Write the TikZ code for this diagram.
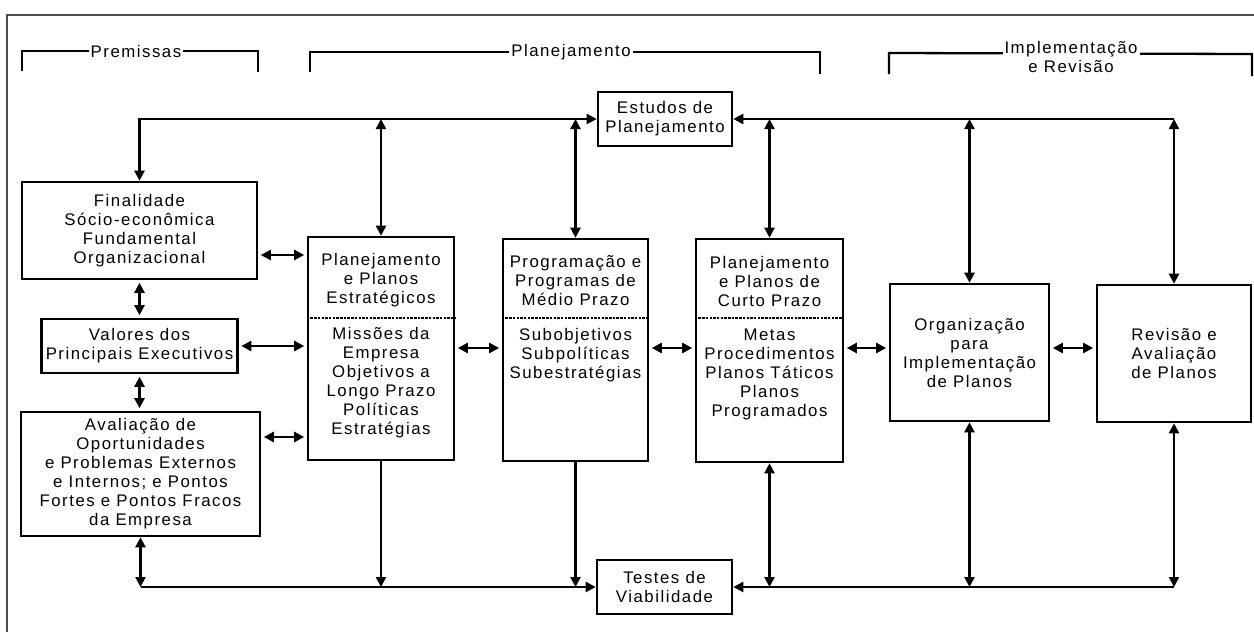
\documentclass[tikz,border=0pt]{standalone}
\usepackage{fontspec}
\setmainfont{Liberation Sans}[LetterSpace=9]
\usetikzlibrary{arrows.meta}
\begin{document}
\begin{tikzpicture}[x=1pt,y=-1pt,
  txt/.style={font=\fontsize{16.8}{19}\selectfont, align=center, inner sep=0pt},
  box/.style={draw, line width=2.6pt, inner sep=0pt, txt},
  conn/.style={line width=2.3pt, >={Triangle[length=10pt,width=10pt]}},
  gap/.style={shorten <=2.5pt, shorten >=2.5pt},
  brk/.style={line width=2.3pt},
  frame/.style={line width=1.8pt, draw=black!70},
  split/.style={line width=2pt, dash pattern=on 2.5pt off 1.2pt},
  head/.style={txt, fill=white, inner xsep=2pt, inner ysep=1pt}
]
\useasboundingbox (0,0) rectangle (1254,632);

% outer frame (top and left edges)
\draw[frame] (7,632) -- (7,15) -- (1254,15);

% phase brackets
\draw[brk] (22,71) -- (22,51) -- (258,51) -- (258,72);
\node[head] (premissas) at (136,51) {Premissas};
\draw[brk] (310,72) -- (310,52) -- (820,52) -- (820,74);
\node[head] (planejamento) at (571,52) {Planejamento};
\draw[brk] (889,74) -- (889,53) -- (1252,54) -- (1252,76);
\node[head] (implementacao) at (1071,57) {Implementação\\e Revisão};

% boxes
\node[box, minimum width=134pt, minimum height=54pt] (estudos) at (665,119) {Estudos de\\Planejamento};
\node[box, minimum width=235pt, minimum height=97pt] (finalidade) at (139.5,230.5) {Finalidade\\Sócio-econômica\\Fundamental\\Organizacional};
\node[box, minimum width=196pt, minimum height=54pt] (valores) at (139.5,346) {Valores dos\\Principais Executivos};
\node[box, minimum width=239pt, minimum height=124pt] (avaliacao) at (140.5,474) {Avaliação de\\Oportunidades\\e Problemas Externos\\e Internos; e Pontos\\Fortes e Pontos Fracos\\da Empresa};

\node[box, minimum width=146pt, minimum height=223pt] (estrategico) at (381,348.5) {};
\node[box, minimum width=145pt, minimum height=222pt] (programacao) at (575.5,350) {};
\node[box, minimum width=147pt, minimum height=223pt] (curto) at (769.5,350.5) {};

\node[box, minimum width=159pt, minimum height=137pt] (organizacao) at (969.5,352.5) {Organização\\para\\Implementação\\de Planos};
\node[box, minimum width=154pt, minimum height=137pt] (revisao) at (1174,353.5) {Revisão e\\Avaliação\\de Planos};
\node[box, minimum width=135pt, minimum height=54pt] (testes) at (664.5,587) {Testes de\\Viabilidade};

% dashed dividers inside the planning boxes
\coordinate (dl) at (0,318);
\draw[split] (estrategico.west |- dl) -- (estrategico.east |- dl);
\draw[split] (programacao.west |- dl) -- (programacao.east |- dl);
\draw[split] (curto.west |- dl) -- (curto.east |- dl);

\node[txt] (estrategico-top) at (381,280) {Planejamento\\e Planos\\Estratégicos};
\node[txt] (estrategico-bot) at (381,382.5) {Missões da\\Empresa\\Objetivos a\\Longo Prazo\\Políticas\\Estratégias};
\node[txt] (programacao-top) at (575.5,281) {Programação e\\Programas de\\Médio Prazo};
\node[txt] (programacao-bot) at (575.5,355) {Subobjetivos\\Subpolíticas\\Subestratégias};
\node[txt] (curto-top) at (769.5,281.5) {Planejamento\\e Planos de\\Curto Prazo};
\node[txt] (curto-bot) at (769.5,374.5) {Metas\\Procedimentos\\Planos Táticos\\Planos\\Programados};

% top feedback line through Estudos de Planejamento
\draw[conn,<->] (estudos.west) -| (finalidade.north);
\coordinate (tr) at (revisao.north |- estudos.east);
\draw[conn,<-] (estudos.east) -- (tr);
\draw[conn,<->] (estrategico.north |- estudos.west) -- (estrategico.north);
\draw[conn,<->] (programacao.north |- estudos.west) -- (programacao.north);
\draw[conn,<->] (curto.north |- estudos.east) -- (curto.north);
\draw[conn,<->] (organizacao.north |- estudos.east) -- (organizacao.north);
\draw[conn,<->] (tr) -- (revisao.north);

% bottom line through Testes de Viabilidade
\coordinate (bl) at (avaliacao.south |- testes.west);
\coordinate (br) at (revisao.south |- testes.east);
\draw[conn,<->] (avaliacao.south) -- (bl);
\draw[conn,->] (bl) -- (testes.west);
\draw[conn,->] (estrategico.south) -- (estrategico.south |- testes.west);
\draw[conn,->] (programacao.south) -- (programacao.south |- testes.west);
\draw[conn,<-] (testes.east) -- (br);
\draw[conn,<->] (curto.south) -- (curto.south |- testes.east);
\draw[conn,<->] (organizacao.south) -- (organizacao.south |- testes.east);
\draw[conn,<->] (revisao.south) -- (br);

% premises column
\draw[conn,<->,gap] (finalidade.south) -- (finalidade.south |- valores.north);
\draw[conn,<->,gap] (valores.south) -- (valores.south |- avaliacao.north);

% horizontal links
\coordinate (rowA) at (0,255);
\coordinate (rowB) at (0,346);
\coordinate (rowC) at (0,437);
\coordinate (rowM) at (0,348);
\draw[conn,<->,gap] (finalidade.east |- rowA) -- (estrategico.west |- rowA);
\draw[conn,<->,gap] (valores.east |- rowB) -- (estrategico.west |- rowB);
\draw[conn,<->,gap] (avaliacao.east |- rowC) -- (estrategico.west |- rowC);
\draw[conn,<->,gap] (estrategico.east |- rowM) -- (programacao.west |- rowM);
\draw[conn,<->,gap] (programacao.east |- rowM) -- (curto.west |- rowM);
\draw[conn,<->,gap] (curto.east |- rowM) -- (organizacao.west |- rowM);
\draw[conn,<->,gap] (organizacao.east |- rowM) -- (revisao.west |- rowM);
\end{tikzpicture}
\end{document}
